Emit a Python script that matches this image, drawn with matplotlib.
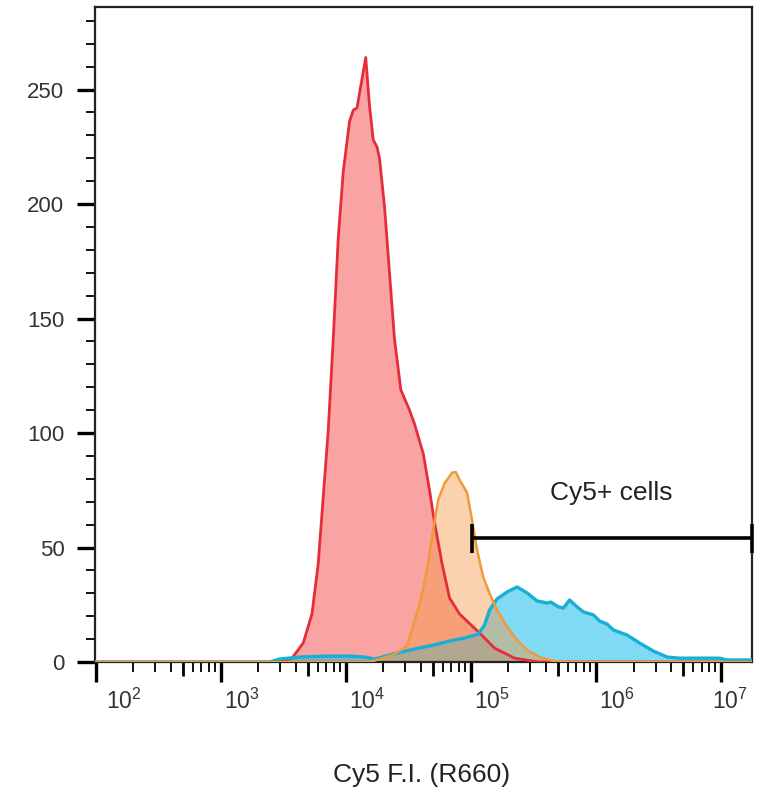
import numpy as np
import matplotlib
matplotlib.use("Agg")
import matplotlib.pyplot as plt
from matplotlib.ticker import FixedLocator, NullFormatter
from matplotlib.transforms import ScaledTranslation

plt.rcParams["font.family"] = ["Liberation Sans", "DejaVu Sans"]
plt.rcParams["mathtext.fontset"] = "custom"
plt.rcParams["mathtext.rm"] = "Liberation Sans"

# Histogram traces: log10(Cy5 fluorescence intensity) and cell counts
red_log = [3.47, 3.57, 3.66, 3.73, 3.78, 3.82, 3.86, 3.89, 3.90, 3.94, 3.98, 4.03,
           4.06, 4.09, 4.16, 4.19, 4.22, 4.25, 4.27, 4.31, 4.35, 4.39, 4.42, 4.44,
           4.51, 4.55, 4.62, 4.67, 4.71, 4.77, 4.83, 4.91, 5.07, 5.19, 5.35, 5.55]
red_count = [0, 1.7, 8.3, 21, 43, 72, 101, 131, 141, 185, 214, 236,
             241, 242, 264, 243, 228, 225, 220, 199, 170, 141, 128, 119,
             110, 104, 91, 75, 61, 43, 28, 21, 12.7, 6.1, 1.7, 0]

orange_log = [4.19, 4.38, 4.49, 4.59, 4.65, 4.70, 4.74, 4.79, 4.85, 4.88, 4.91,
              4.97, 5.01, 5.05, 5.10, 5.15, 5.21, 5.29, 5.37, 5.45, 5.55, 5.67, 5.79]
orange_count = [0, 3.1, 7.0, 25, 40, 58, 71, 78, 82.7, 83, 79.6,
                74, 62, 49, 37, 30, 22.7, 15.3, 9.6, 5.2, 2.2, 0.4, 0]

cyan_log = [3.39, 3.47, 3.63, 3.85, 4.03, 4.15, 4.23, 4.38, 4.51, 4.70, 4.83, 4.95,
            5.06, 5.11, 5.15, 5.21, 5.29, 5.37, 5.45, 5.53, 5.61, 5.64, 5.70, 5.74,
            5.79, 5.85, 5.90, 5.98, 6.03, 6.09, 6.14, 6.25, 6.35, 6.46, 6.57, 6.67,
            6.99, 7.05, 7.25]
cyan_count = [0, 1.3, 2.2, 2.6, 2.6, 2.2, 1.3, 3.5, 5.2, 7.4, 9.2, 10.5,
              12.2, 16.2, 22.7, 27.6, 30.6, 32.8, 30.2, 26.7, 25.8, 26.2, 24.1, 23.6,
              27.1, 24.1, 21.9, 20.6, 17.9, 16.6, 14.0, 11.8, 8.3, 4.8, 2.2, 1.7,
              1.7, 0.9, 0.9]

x_decades = [2, 3, 4, 5, 6, 7]
y_major = [0, 50, 100, 150, 200, 250]

gate_start = 1.02e5
gate_level = 54
gate_label = "Cy5+ cells"
x_title = "Cy5 F.I. (R660)"

x_min, x_max = 10 ** 1.995, 10 ** 7.248
y_max = 286

fig = plt.figure(figsize=(7.58, 7.91), dpi=100)
ax = fig.add_axes([0.1253, 0.163, 0.8667, 0.828])

series = [
    (red_log, red_count, "#F43C3C", 0.47, "#E52D3A", 2.0),
    (cyan_log, cyan_count, "#1EBEEB", 0.56, "#17AFD6", 2.4),
    (orange_log, orange_count, "#F59A45", 0.44, "#F09A3A", 1.8),
]
for lg, cnt, fc, alpha, lc, lw in series:
    xs = np.concatenate([[x_min], 10 ** np.asarray(lg), [x_max]])
    ys = np.concatenate([[0], np.asarray(cnt, dtype=float), [0]])
    ax.fill_between(xs, 0, ys, color=fc, alpha=alpha, linewidth=0, zorder=2)
    ax.plot(xs, ys, color=lc, lw=lw, zorder=3, solid_joinstyle="round")

ax.set_xscale("log")
ax.set_xlim(x_min, x_max)
ax.set_ylim(0, y_max)

# Gate marker for the positive population
ax.plot([gate_start, x_max], [gate_level, gate_level], color="black", lw=2.6,
        zorder=5, clip_on=False, solid_capstyle="butt")
for gx in (gate_start, x_max):
    ax.plot([gx, gx], [gate_level - 6.2, gate_level + 6.2], color="black", lw=2.6,
            zorder=5, clip_on=False, solid_capstyle="butt")
ax.text(10 ** 6.12, 74, gate_label, ha="center", va="center", fontsize=19,
        color="#222222")

for sp in ax.spines.values():
    sp.set_linewidth(1.6)
    sp.set_color("#222222")

# y ticks
ax.yaxis.set_major_locator(FixedLocator(y_major))
ax.yaxis.set_minor_locator(FixedLocator([v for v in range(0, 290, 10) if v % 50]))
ax.tick_params(axis="y", which="major", length=13, width=2.4, pad=9,
               labelsize=16, labelcolor="#333333", direction="out")
ax.tick_params(axis="y", which="minor", length=6.5, width=1.3, direction="out")

# x ticks: decades, with 2-4 and 6-9 as short ticks
ax.xaxis.set_major_locator(FixedLocator([10.0 ** d for d in x_decades]))
minor = [m * 10.0 ** d for d in range(2, 8) for m in (2, 3, 4, 6, 7, 8, 9)]
ax.xaxis.set_minor_locator(FixedLocator(minor))
ax.xaxis.set_minor_formatter(NullFormatter())
ax.set_xticklabels([r"$\mathregular{10^{%d}}$" % d for d in x_decades])
ax.tick_params(axis="x", which="major", length=14.5, width=2.4, pad=5,
               labelsize=16.5, labelcolor="#333333", direction="out")
ax.tick_params(axis="x", which="minor", length=7, width=1.3, direction="out")
labels = ax.get_xticklabels()
for i, lab in enumerate(labels):
    dx = 0.10 if i == 0 else (-0.09 if i == len(labels) - 1 else 0.03)
    lab.set_horizontalalignment("left")
    lab.set_transform(lab.get_transform() + ScaledTranslation(dx, 0, fig.dpi_scale_trans))

# half-decade ticks, slightly longer
mid = ax.secondary_xaxis("bottom")
mid.set_xticks([5 * 10.0 ** d for d in range(2, 7)])
mid.xaxis.set_major_formatter(NullFormatter())
mid.tick_params(axis="x", length=10, width=2.0, direction="out")
mid.spines["bottom"].set_visible(False)

fig.text(0.556, 0.02, x_title, ha="center", va="center", fontsize=19,
         color="#222222")

fig.savefig("out.png", dpi=100, facecolor="white")
